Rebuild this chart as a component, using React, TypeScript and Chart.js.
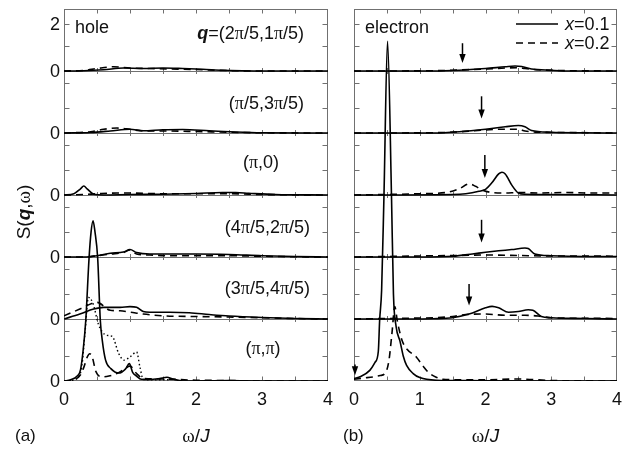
import { useEffect, useRef } from "react";
import { Chart, registerables } from "chart.js";
Chart.register(...registerables);

const SANS = '"Liberation Sans", Arial, sans-serif';
const SERIF = '"Liberation Serif", "Times New Roman", serif';

// ---------- axes / ticks ----------
const omegaTickLabels = ["0", "1", "2", "3", "4"];
const omegaTickValues = [0, 1, 2, 3, 4];
const omegaMinorTicks = [0.5, 1, 1.5, 2, 2.5, 3, 3.5];
const subpanelStep = 2.5; // vertical offset between stacked spectra
const subTickValues = [0, 1, 2];

// ---------- hole panel (a) ----------
// (2π/5,1π/5)
const hQ1SolidW = [0, 0.3, 0.6, 0.9, 1.2, 1.5, 1.8, 2.1, 2.4, 2.7, 3.0, 4.0];
const hQ1Solid = [0, 0.01, 0.05, 0.12, 0.1, 0.12, 0.1, 0.07, 0.03, 0.01, 0, 0];
const hQ1DashW = [0, 0.3, 0.5, 0.75, 1.0, 1.3, 1.6, 2.0, 2.3, 2.6, 3.0, 4.0];
const hQ1Dash = [0, 0.02, 0.1, 0.17, 0.12, 0.1, 0.08, 0.06, 0.03, 0.01, 0, 0];
// (π/5,3π/5)
const hQ2SolidW = [0, 0.4, 0.7, 1.0, 1.2, 1.5, 1.8, 2.2, 2.6, 3.0, 4.0];
const hQ2Solid = [0, 0.02, 0.08, 0.15, 0.09, 0.13, 0.14, 0.09, 0.04, 0.01, 0];
const hQ2DashW = [0, 0.4, 0.6, 0.8, 1.0, 1.2, 1.5, 2.0, 2.5, 3.0, 4.0];
const hQ2Dash = [0, 0.05, 0.15, 0.2, 0.15, 0.08, 0.08, 0.06, 0.03, 0.01, 0];
// (π,0)
const hQ3SolidW = [0, 0.15, 0.25, 0.3, 0.35, 0.45, 0.6, 1.0, 1.5, 2.0, 2.4, 2.6, 2.8, 3.2, 4.0];
const hQ3Solid = [0, 0.05, 0.25, 0.36, 0.25, 0.03, 0, 0.02, 0.03, 0.06, 0.1, 0.1, 0.07, 0.02, 0];
const hQ3DashW = [0, 0.3, 0.5, 0.8, 1.0, 1.5, 2.0, 2.5, 3.0, 4.0];
const hQ3Dash = [0, 0.02, 0.05, 0.08, 0.08, 0.05, 0.05, 0.05, 0.02, 0];
// (4π/5,2π/5)
const hQ4SolidW = [0, 0.3, 0.5, 0.7, 0.9, 1.0, 1.1, 1.3, 1.6, 2.0, 2.5, 3.0, 3.5, 4.0];
const hQ4Solid = [0, 0, 0.05, 0.15, 0.2, 0.3, 0.18, 0.12, 0.12, 0.12, 0.1, 0.05, 0.02, 0];
const hQ4DashW = [0, 0.3, 0.5, 0.7, 0.9, 1.0, 1.1, 1.3, 1.6, 2.0, 2.5, 3.0, 3.5, 4.0];
const hQ4Dash = [0, 0, 0.05, 0.12, 0.18, 0.28, 0.12, 0.08, 0.05, 0.05, 0.05, 0.03, 0.01, 0];
// (3π/5,4π/5)
const hQ5SolidW = [0, 0.24, 0.45, 0.6, 0.85, 1.0, 1.1, 1.2, 1.3, 1.6, 1.9, 2.2, 2.5, 3.0, 3.5, 4.0];
const hQ5Solid = [0, 0.2, 0.4, 0.47, 0.47, 0.5, 0.47, 0.3, 0.27, 0.27, 0.25, 0.18, 0.12, 0.06, 0.02, 0];
const hQ5DashW = [0, 0.24, 0.45, 0.5, 0.7, 0.85, 1.0, 1.2, 1.5, 2.0, 2.5, 3.0, 3.5, 4.0];
const hQ5Dash = [0.13, 0.4, 0.65, 0.67, 0.35, 0.33, 0.28, 0.2, 0.13, 0.1, 0.08, 0.05, 0.02, 0];
// (π,π)
const hQ6SolidW = [0, 0.1, 0.2, 0.25, 0.29, 0.33, 0.38, 0.41, 0.44, 0.47, 0.51, 0.55, 0.58, 0.63, 0.71, 0.83, 0.93, 0.99, 1.04, 1.1, 1.17, 1.3, 1.45, 1.56, 1.65, 1.8, 2.5, 3.0, 4.0];
const hQ6Solid = [0, 0.05, 0.2, 0.45, 1.24, 2.45, 4.97, 6.0, 6.46, 6.0, 4.97, 2.45, 1.64, 0.84, 0.5, 0.32, 0.48, 0.7, 0.35, 0.2, 0.07, 0.06, 0.1, 0.15, 0.08, 0, 0.02, 0, 0];
const hQ6DashW = [0, 0.15, 0.25, 0.3, 0.35, 0.39, 0.43, 0.48, 0.57, 0.68, 0.8, 0.9, 1.0, 1.1, 1.2, 1.5, 2.0, 2.5, 3.0, 4.0];
const hQ6Dash = [0, 0.05, 0.25, 0.55, 0.95, 1.1, 0.95, 0.4, 0.17, 0.2, 0.3, 0.45, 0.6, 0.3, 0.1, 0.08, 0.03, 0.02, 0, 0];
const hQ6DotW = [0, 0.2, 0.27, 0.32, 0.37, 0.44, 0.52, 0.58, 0.65, 0.73, 0.83, 0.91, 1.0, 1.1, 1.15, 1.2, 1.3, 1.6];
const hQ6Dot = [0, 0.1, 0.6, 2.0, 3.37, 3.12, 2.3, 1.98, 1.84, 1.8, 1.1, 0.84, 0.97, 1.17, 0.57, 0.07, 0.05, 0.05];

// ---------- electron panel (b) ----------
const eQ1SolidW = [0, 1.2, 1.6, 2.0, 2.3, 2.45, 2.55, 2.7, 3.0, 3.3, 4.0];
const eQ1Solid = [0, 0, 0.03, 0.1, 0.17, 0.2, 0.18, 0.08, 0.03, 0, 0];
const eQ1DashW = [0, 1.2, 1.6, 2.0, 2.3, 2.5, 2.6, 2.8, 3.1, 4.0];
const eQ1Dash = [0, 0.01, 0.04, 0.08, 0.12, 0.13, 0.1, 0.05, 0.02, 0];

const eQ2SolidW = [0, 1.2, 1.6, 2.0, 2.3, 2.5, 2.6, 2.7, 3.0, 3.5, 4.0];
const eQ2Solid = [0, 0, 0.05, 0.15, 0.25, 0.3, 0.25, 0.1, 0.03, 0.01, 0];
const eQ2DashW = [0, 1.2, 1.6, 2.0, 2.2, 2.5, 2.6, 2.8, 3.2, 4.0];
const eQ2Dash = [0, 0.01, 0.05, 0.12, 0.15, 0.15, 0.08, 0.03, 0.02, 0];

const eQ3SolidW = [0, 1.5, 1.7, 1.9, 2.0, 2.1, 2.2, 2.25, 2.3, 2.4, 2.5, 2.6, 3.0, 4.0];
const eQ3Solid = [0, 0.02, 0.05, 0.15, 0.23, 0.5, 0.85, 0.92, 0.85, 0.4, 0.08, 0.03, 0.02, 0];
const eQ3DashW = [0, 0.5, 1.0, 1.4, 1.6, 1.75, 1.85, 1.95, 2.1, 2.3, 2.5, 2.8, 3.2, 3.6, 4.0];
const eQ3Dash = [0, 0.02, 0.05, 0.1, 0.25, 0.45, 0.35, 0.2, 0.1, 0.08, 0.1, 0.08, 0.1, 0.08, 0.08];

const eQ4SolidW = [0, 1.0, 1.5, 1.8, 2.0, 2.2, 2.4, 2.6, 2.65, 2.75, 3.0, 3.5, 4.0];
const eQ4Solid = [0, 0, 0.03, 0.12, 0.19, 0.25, 0.3, 0.36, 0.34, 0.12, 0.05, 0.02, 0.02];
const eQ4DashW = [0, 1.0, 1.5, 2.0, 2.5, 3.0, 3.5, 4.0];
const eQ4Dash = [0, 0.04, 0.06, 0.08, 0.06, 0.04, 0.04, 0.03];

const eQ5SolidW = [0, 0.8, 1.2, 1.5, 1.75, 2.0, 2.1, 2.2, 2.35, 2.5, 2.65, 2.72, 2.85, 3.0, 3.5, 4.0];
const eQ5Solid = [0, 0, 0.01, 0.05, 0.2, 0.45, 0.51, 0.45, 0.27, 0.3, 0.37, 0.35, 0.1, 0.05, 0.02, 0];
const eQ5DashW = [0, 0.8, 1.2, 1.5, 1.7, 2.0, 2.3, 2.6, 2.8, 3.0, 3.5, 4.0];
const eQ5Dash = [0, 0.03, 0.05, 0.1, 0.18, 0.2, 0.15, 0.15, 0.12, 0.05, 0.03, 0.02];

const eQ6SolidW = [0, 0.1, 0.24, 0.32, 0.37, 0.39, 0.42, 0.456, 0.51, 0.57, 0.6, 0.64, 0.7, 0.75, 0.8, 0.9, 1.0, 1.25, 1.5, 2.0, 3.0, 4.0];
const eQ6Solid = [0.1, 0.18, 0.43, 0.75, 1.2, 2.45, 3.66, 7.5, 13.7, 7.5, 3.5, 2.2, 1.6, 1.0, 0.63, 0.3, 0.14, 0.03, 0.02, 0.01, 0, 0];
const eQ6DashW = [0, 0.15, 0.3, 0.4, 0.47, 0.53, 0.58, 0.62, 0.66, 0.73, 0.8, 0.95, 1.05, 1.13, 1.25, 1.35, 1.6, 2.0, 2.5, 3.0, 4.0];
const eQ6Dash = [0.07, 0.12, 0.17, 0.22, 0.3, 0.8, 2.0, 3.0, 2.4, 1.64, 1.3, 0.96, 0.6, 0.35, 0.15, 0.07, 0.05, 0.05, 0.08, 0.02, 0];

// arrows (electron): subpanel index, omega, top, bottom (relative to baseline)
const arrowSub = [5, 4, 3, 2, 1, 0];
const arrowOmega = [1.65, 1.94, 1.99, 1.94, 1.75, 0];
const arrowTop = [1.12, 1.48, 1.61, 1.5, 1.41, 0.67];
const arrowBottom = [0.32, 0.58, 0.69, 0.58, 0.54, 0.23];

// momentum labels (rich text runs), subpanel 5 (top) .. 0 (bottom)
type Run = [string, string];
const qLabels: Run[][] = [
  [["q", "bi"], ["=(2", "s"], ["π", "p"], ["/5,1", "s"], ["π", "p"], ["/5)", "s"]],
  [["(", "s"], ["π", "p"], ["/5,3", "s"], ["π", "p"], ["/5)", "s"]],
  [["(", "s"], ["π", "p"], [",0)", "s"]],
  [["(4", "s"], ["π", "p"], ["/5,2", "s"], ["π", "p"], ["/5)", "s"]],
  [["(3", "s"], ["π", "p"], ["/5,4", "s"], ["π", "p"], ["/5)", "s"]],
  [["(", "s"], ["π", "p"], [",", "s"], ["π", "p"], [")", "s"]],
];
const qLabelPos: [number, number, string][] = [
  [304, 33, "right"], [304, 103, "right"], [261, 162, "center"],
  [310, 227, "right"], [310, 288, "right"], [263, 348, "center"],
];

function fontFor(kind: string, size: number) {
  if (kind === "p") return `${size}px ${SERIF}`;
  if (kind === "bi") return `italic bold ${size}px ${SANS}`;
  if (kind === "i") return `italic ${size}px ${SANS}`;
  return `${size}px ${SANS}`;
}
function drawRuns(ctx: CanvasRenderingContext2D, runs: Run[], x: number, yc: number, align: string, size: number) {
  let total = 0;
  const widths = runs.map(([t, k]) => { ctx.font = fontFor(k, size); const w = ctx.measureText(t).width; total += w; return w; });
  let cx = align === "right" ? x - total : align === "center" ? x - total / 2 : x;
  ctx.textAlign = "left";
  ctx.textBaseline = "alphabetic";
  const by = yc + size * 0.35;
  runs.forEach(([t, k], i) => { ctx.font = fontFor(k, size); ctx.fillText(t, cx, by); cx += widths[i]; });
}

function mk(w: number[], s: number[], sub: number, style: string) {
  const off = sub * subpanelStep;
  return {
    data: w.map((x, i) => ({ x, y: s[i] + off })),
    borderColor: "#000",
    borderWidth: style === "dot" ? 1.4 : 1.6,
    borderDash: style === "dash" ? [7, 5] : style === "dot" ? [1.5, 2.5] : [],
    showLine: true,
    pointRadius: 0,
    cubicInterpolationMode: "monotone" as const,
    fill: false,
  };
}

const holeDatasets = () => [
  mk(hQ1SolidW, hQ1Solid, 5, "solid"), mk(hQ1DashW, hQ1Dash, 5, "dash"),
  mk(hQ2SolidW, hQ2Solid, 4, "solid"), mk(hQ2DashW, hQ2Dash, 4, "dash"),
  mk(hQ3SolidW, hQ3Solid, 3, "solid"), mk(hQ3DashW, hQ3Dash, 3, "dash"),
  mk(hQ4SolidW, hQ4Solid, 2, "solid"), mk(hQ4DashW, hQ4Dash, 2, "dash"),
  mk(hQ5SolidW, hQ5Solid, 1, "solid"), mk(hQ5DashW, hQ5Dash, 1, "dash"),
  mk(hQ6DotW, hQ6Dot, 0, "dot"), mk(hQ6DashW, hQ6Dash, 0, "dash"), mk(hQ6SolidW, hQ6Solid, 0, "solid"),
];
const electronDatasets = () => [
  mk(eQ1SolidW, eQ1Solid, 5, "solid"), mk(eQ1DashW, eQ1Dash, 5, "dash"),
  mk(eQ2SolidW, eQ2Solid, 4, "solid"), mk(eQ2DashW, eQ2Dash, 4, "dash"),
  mk(eQ3SolidW, eQ3Solid, 3, "solid"), mk(eQ3DashW, eQ3Dash, 3, "dash"),
  mk(eQ4SolidW, eQ4Solid, 2, "solid"), mk(eQ4DashW, eQ4Dash, 2, "dash"),
  mk(eQ5SolidW, eQ5Solid, 1, "solid"), mk(eQ5DashW, eQ5Dash, 1, "dash"),
  mk(eQ6DashW, eQ6Dash, 0, "dash"), mk(eQ6SolidW, eQ6Solid, 0, "solid"),
];

const FRAME = "#707070";

function framePlugin(isHole: boolean) {
  return {
    id: "frame" + (isHole ? "H" : "E"),
    beforeDatasetsDraw(chart: any) {
      const ctx: CanvasRenderingContext2D = chart.ctx;
      const xs = chart.scales.x, ys = chart.scales.y;
      const { left, right, top, bottom } = chart.chartArea;
      ctx.save();
      ctx.strokeStyle = FRAME;
      ctx.lineWidth = 1;
      const L = Math.round(left) + 0.5, R = Math.round(right) - 0.5;
      const T = Math.round(top) + 0.5, B = Math.round(bottom) - 0.5;
      ctx.strokeRect(L, T, R - L, B - T);
      for (let k = 1; k < 6; k++) {
        const y = Math.round(ys.getPixelForValue(k * subpanelStep)) + 0.5;
        ctx.beginPath(); ctx.moveTo(L, y); ctx.lineTo(R, y); ctx.stroke();
      }
      omegaMinorTicks.forEach((w) => {
        const x = Math.round(xs.getPixelForValue(w)) + 0.5;
        ctx.beginPath();
        ctx.moveTo(x, T); ctx.lineTo(x, T + 4);
        ctx.moveTo(x, B); ctx.lineTo(x, B - 4);
        for (let k = 1; k < 6; k++) {
          const y = ys.getPixelForValue(k * subpanelStep);
          ctx.moveTo(x, y - 3); ctx.lineTo(x, y + 3);
        }
        ctx.stroke();
      });
      for (let k = 0; k < 6; k++) {
        subTickValues.forEach((v) => {
          if (k === 0 && v === 0) return;
          const val = k * subpanelStep + (k === 5 && v === 2 ? 1.9 : v);
          const y = Math.round(ys.getPixelForValue(val)) + 0.5;
          ctx.beginPath();
          ctx.moveTo(L, y); ctx.lineTo(L + 5, y);
          ctx.moveTo(R, y); ctx.lineTo(R - 5, y);
          ctx.stroke();
        });
      }
      ctx.restore();
    },
    afterDatasetsDraw(chart: any) {
      const ctx: CanvasRenderingContext2D = chart.ctx;
      const xs = chart.scales.x, ys = chart.scales.y;
      const { left, right, bottom } = chart.chartArea;
      ctx.save();
      ctx.fillStyle = "#111";
      omegaTickValues.forEach((w, i) => {
        drawRuns(ctx, [[omegaTickLabels[i], "s"]], xs.getPixelForValue(w), bottom + 17.5, "center", 18);
      });
      drawRuns(ctx, [["ω", "p"], ["/", "s"], ["J", "i"]], (left + right) / 2, 435, "center", 19);
      if (isHole) {
        for (let k = 0; k < 6; k++) {
          drawRuns(ctx, [["0", "s"]], left - 4, ys.getPixelForValue(k * subpanelStep), "right", 18);
        }
        drawRuns(ctx, [["2", "s"]], left - 4, ys.getPixelForValue(5 * subpanelStep + 1.9), "right", 18);
        drawRuns(ctx, [["hole", "s"]], 75, 27, "left", 18);
        qLabels.forEach((runs, i) => {
          const [x, y, a] = qLabelPos[i];
          drawRuns(ctx, runs, x, y, a, 18);
        });
        drawRuns(ctx, [["(a)", "s"]], 15, 435, "left", 17);
        ctx.save();
        ctx.translate(23, 212);
        ctx.rotate(-Math.PI / 2);
        drawRuns(ctx, [["S(", "s"], ["q", "bi"], [",", "s"], ["ω", "p"], [")", "s"]], 0, 0, "center", 19);
        ctx.restore();
      } else {
        drawRuns(ctx, [["electron", "s"]], 365, 27, "left", 18);
        drawRuns(ctx, [["(b)", "s"]], 343, 435, "left", 17);
        ctx.strokeStyle = "#000";
        ctx.lineWidth = 1.6;
        ctx.beginPath(); ctx.moveTo(516, 24); ctx.lineTo(558, 24); ctx.stroke();
        ctx.setLineDash([7, 5]);
        ctx.beginPath(); ctx.moveTo(516, 43); ctx.lineTo(558, 43); ctx.stroke();
        ctx.setLineDash([]);
        drawRuns(ctx, [["x", "i"], ["=0.1", "s"]], 565, 24, "left", 18);
        drawRuns(ctx, [["x", "i"], ["=0.2", "s"]], 565, 43, "left", 18);
        arrowOmega.forEach((w, i) => {
          const off = arrowSub[i] * subpanelStep;
          const x = xs.getPixelForValue(w) + (w === 0 ? 1 : 0);
          const yt = ys.getPixelForValue(off + arrowTop[i]);
          const yb = ys.getPixelForValue(off + arrowBottom[i]);
          ctx.lineWidth = 1.5;
          ctx.beginPath(); ctx.moveTo(x, yt); ctx.lineTo(x, yb - 6); ctx.stroke();
          ctx.beginPath();
          ctx.moveTo(x - 3.2, yb - 9); ctx.lineTo(x + 3.2, yb - 9); ctx.lineTo(x, yb);
          ctx.closePath(); ctx.fillStyle = "#000"; ctx.fill();
        });
      }
      ctx.restore();
    },
  };
}

function Panel({ isHole }: { isHole: boolean }) {
  const ref = useRef<HTMLCanvasElement | null>(null);
  useEffect(() => {
    if (!ref.current) return;
    const W = 632, H = 450;
    const area = isHole ? { l: 64, r: 328 } : { l: 354, r: 617 };
    const chart = new Chart(ref.current, {
      type: "scatter",
      data: { datasets: (isHole ? holeDatasets() : electronDatasets()) as any },
      options: {
        animation: false,
        responsive: false,
        layout: { padding: { left: area.l, right: W - area.r, top: 9, bottom: H - 381 } },
        scales: {
          x: { type: "linear", min: 0, max: 4, display: false },
          y: { type: "linear", min: 0, max: 15, display: false },
        },
        plugins: { legend: { display: false }, tooltip: { enabled: false } },
        elements: { point: { radius: 0 } },
      },
      plugins: [framePlugin(isHole)],
    });
    return () => chart.destroy();
  }, [isHole]);
  return (
    <canvas ref={ref} width={632} height={450}
      style={{ position: "absolute", left: 0, top: 0, width: 632, height: 450, display: "block" }} />
  );
}

export default function App() {
  return (
    <div style={{ position: "fixed", left: 0, top: 0, width: 632, height: 450, background: "#fff", overflow: "hidden" }}>
      <Panel isHole={true} />
      <Panel isHole={false} />
    </div>
  );
}
